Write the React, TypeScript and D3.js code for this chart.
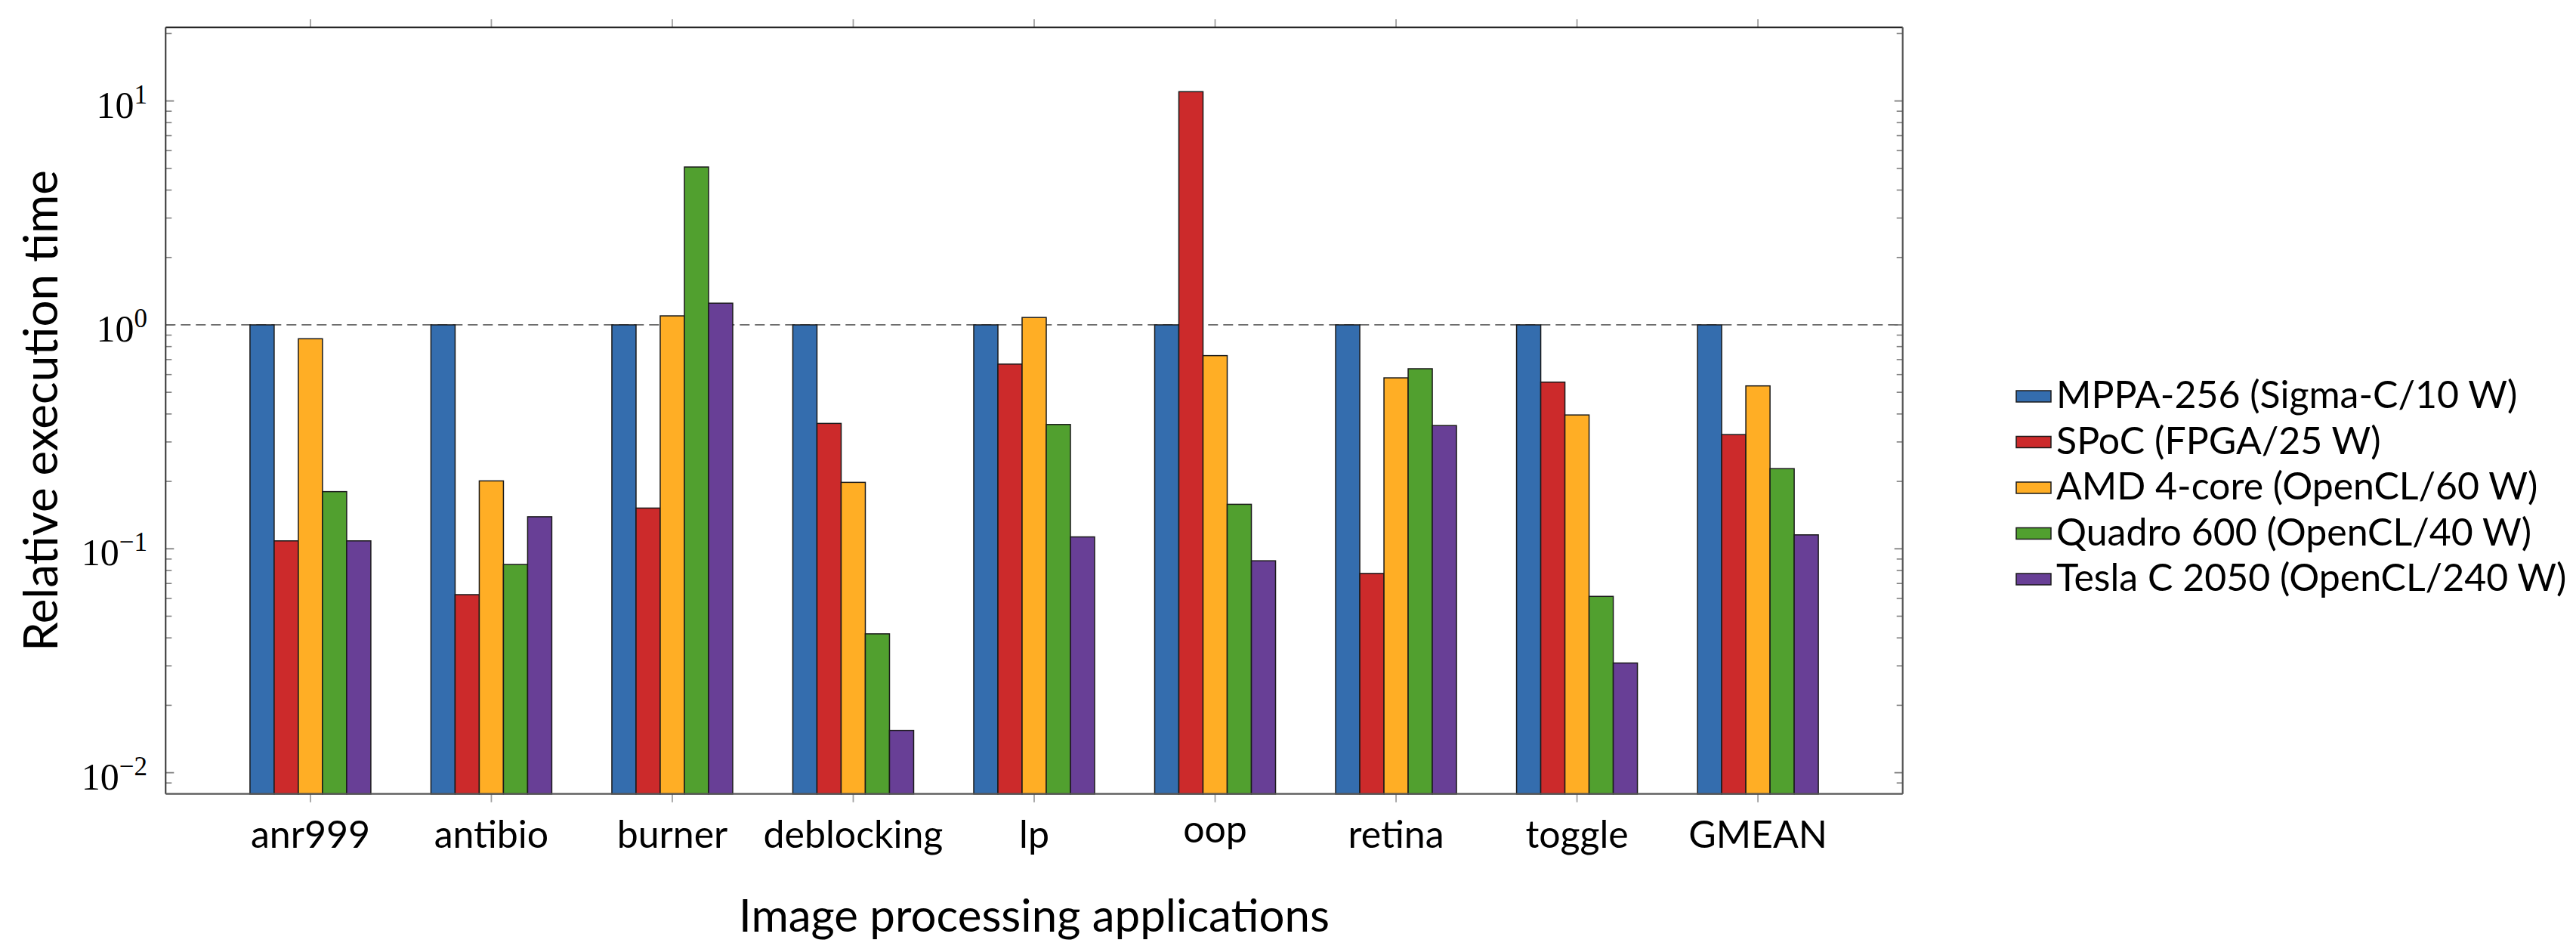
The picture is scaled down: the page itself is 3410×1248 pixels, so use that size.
import React, { useEffect, useRef } from 'react';
import * as d3 from 'd3';

const categories = ['anr999', 'antibio', 'burner', 'deblocking', 'lp', 'oop', 'retina', 'toggle', 'GMEAN'];

const seriesNames = [
  'MPPA-256 (Sigma-C/10 W)',
  'SPoC (FPGA/25 W)',
  'AMD 4-core (OpenCL/60 W)',
  'Quadro 600 (OpenCL/40 W)',
  'Tesla C 2050 (OpenCL/240 W)',
];

const mppaValues = [1, 1, 1, 1, 1, 1, 1, 1, 1];
const spocValues = [0.1085, 0.0624, 0.152, 0.363, 0.668, 11.0, 0.0776, 0.555, 0.3236];
const amdValues = [0.867, 0.201, 1.097, 0.198, 1.079, 0.729, 0.58, 0.396, 0.534];
const quadroValues = [0.18, 0.0851, 5.07, 0.0417, 0.359, 0.158, 0.637, 0.0613, 0.228];
const teslaValues = [0.1085, 0.139, 1.25, 0.01545, 0.113, 0.0884, 0.355, 0.0309, 0.1154];

const yMajorTicks = [0.01, 0.1, 1, 10];
const yTickExponents = ['−2', '−1', '0', '1'];

const COLORS = ['#346DAE', '#CC2A2B', '#FFAE25', '#51A02F', '#683F96'];

const W = 3410;
const H = 1248;
const PLOT = { left: 219.3, right: 2518.7, top: 36.3, bottom: 1050.7 };
const SANS = 'Lato, "DejaVu Sans", sans-serif';
const SERIF = '"Liberation Serif", "DejaVu Serif", serif';

const App: React.FC = () => {
  const svgRef = useRef<SVGSVGElement>(null);

  useEffect(() => {
    if (!svgRef.current) return;
    const svg = d3.select(svgRef.current);
    svg.selectAll('*').remove();

    const allSeries = [mppaValues, spocValues, amdValues, quadroValues, teslaValues];

    const x = d3.scalePoint<string>().domain(categories).range([PLOT.left, PLOT.right]).padding(0.8);
    const x1 = d3
      .scaleBand<number>()
      .domain(d3.range(allSeries.length))
      .range([-80, 80])
      .paddingInner(0);
    const y = d3.scaleLog().domain([0.00804, 21.3]).range([PLOT.bottom, PLOT.top]);

    svg.append('rect').attr('width', W).attr('height', H).attr('fill', '#ffffff');

    // minor ticks (log 2..9) on left and right, pointing in
    const minor: number[] = [];
    for (let d = -3; d <= 1; d++) {
      for (let k = 2; k <= 9; k++) {
        const v = k * Math.pow(10, d);
        if (v >= y.domain()[0] && v <= y.domain()[1]) minor.push(v);
      }
    }
    minor.forEach((v) => {
      const yy = y(v);
      svg.append('line').attr('x1', PLOT.left).attr('x2', PLOT.left + 8).attr('y1', yy).attr('y2', yy)
        .attr('stroke', '#808080').attr('stroke-width', 1.6);
      svg.append('line').attr('x1', PLOT.right).attr('x2', PLOT.right - 8).attr('y1', yy).attr('y2', yy)
        .attr('stroke', '#808080').attr('stroke-width', 1.6);
    });
    yMajorTicks.forEach((v) => {
      const yy = y(v);
      svg.append('line').attr('x1', PLOT.left).attr('x2', PLOT.left + 11).attr('y1', yy).attr('y2', yy)
        .attr('stroke', '#808080').attr('stroke-width', 1.8);
      svg.append('line').attr('x1', PLOT.right).attr('x2', PLOT.right - 11).attr('y1', yy).attr('y2', yy)
        .attr('stroke', '#808080').attr('stroke-width', 1.8);
    });

    // x ticks, outside top and bottom
    categories.forEach((c) => {
      const xx = x(c)!;
      svg.append('line').attr('x1', xx).attr('x2', xx).attr('y1', PLOT.top).attr('y2', PLOT.top - 11)
        .attr('stroke', '#a0a0a0').attr('stroke-width', 1.8);
      svg.append('line').attr('x1', xx).attr('x2', xx).attr('y1', PLOT.bottom).attr('y2', PLOT.bottom + 11)
        .attr('stroke', '#a0a0a0').attr('stroke-width', 1.8);
    });

    // reference line at 1
    svg.append('line')
      .attr('x1', PLOT.left).attr('x2', PLOT.right)
      .attr('y1', y(1)).attr('y2', y(1))
      .attr('stroke', '#666666').attr('stroke-width', 1.8)
      .attr('stroke-dasharray', '13,7');

    // bars
    allSeries.forEach((vals, si) => {
      vals.forEach((v, ci) => {
        const bx = x(categories[ci])! + x1(si)!;
        svg.append('rect')
          .attr('x', bx)
          .attr('y', y(v))
          .attr('width', x1.bandwidth())
          .attr('height', PLOT.bottom - y(v))
          .attr('fill', COLORS[si])
          .attr('stroke', '#1a1a1a')
          .attr('stroke-width', 1.5);
      });
    });

    // axis frame: dark top/left, greyer bottom/right like the original
    svg.append('line').attr('x1', PLOT.left).attr('x2', PLOT.right).attr('y1', PLOT.top).attr('y2', PLOT.top)
      .attr('stroke', '#222222').attr('stroke-width', 2);
    svg.append('line').attr('x1', PLOT.left).attr('x2', PLOT.left).attr('y1', PLOT.top).attr('y2', PLOT.bottom)
      .attr('stroke', '#333333').attr('stroke-width', 2);
    svg.append('line').attr('x1', PLOT.right).attr('x2', PLOT.right).attr('y1', PLOT.top).attr('y2', PLOT.bottom)
      .attr('stroke', '#555555').attr('stroke-width', 2.2);
    svg.append('line').attr('x1', PLOT.left).attr('x2', PLOT.right).attr('y1', PLOT.bottom).attr('y2', PLOT.bottom)
      .attr('stroke', '#555555').attr('stroke-width', 2.2);

    // y tick labels
    yMajorTicks.forEach((v, i) => {
      const t = svg.append('text')
        .attr('x', 195)
        .attr('y', y(v) + 22)
        .attr('text-anchor', 'end')
        .attr('font-family', SERIF)
        .attr('font-size', 50)
        .attr('fill', '#000');
      t.append('tspan').text('10');
      t.append('tspan').attr('dy', -19).attr('font-size', 35).text(yTickExponents[i]);
    });

    // x tick labels (anchored at top like pgfplots)
    categories.forEach((c) => {
      const tall = /[A-Z0-9bdfhiklt]/.test(c);
      svg.append('text')
        .attr('x', x(c)!)
        .attr('y', tall ? 1122 : 1115)
        .attr('text-anchor', 'middle')
        .attr('font-family', SANS)
        .attr('font-size', 50)
        .attr('fill', '#000')
        .text(c);
    });

    // axis titles
    svg.append('text')
      .attr('x', (PLOT.left + PLOT.right) / 2)
      .attr('y', 1233)
      .attr('text-anchor', 'middle')
      .attr('font-family', SANS)
      .attr('font-size', 60)
      .attr('fill', '#000')
      .text('Image processing applications');

    svg.append('text')
      .attr('transform', `translate(76, ${(PLOT.top + PLOT.bottom) / 2}) rotate(-90)`)
      .attr('text-anchor', 'middle')
      .attr('font-family', SANS)
      .attr('font-size', 62)
      .attr('fill', '#000')
      .text('Relative execution time');

    // legend
    seriesNames.forEach((name, i) => {
      const base = 540 + i * 60.5;
      svg.append('rect')
        .attr('x', 2669).attr('y', base - 23)
        .attr('width', 46).attr('height', 15)
        .attr('fill', COLORS[i]).attr('stroke', '#1a1a1a').attr('stroke-width', 1.5);
      svg.append('text')
        .attr('x', 2722).attr('y', base)
        .attr('font-family', SANS)
        .attr('font-size', 50)
        .attr('fill', '#000')
        .text(name);
    });
  }, []);

  return (
    <svg
      ref={svgRef}
      width={W}
      height={H}
      style={{ position: 'absolute', left: 0, top: 0, display: 'block' }}
    />
  );
};

export default App;
